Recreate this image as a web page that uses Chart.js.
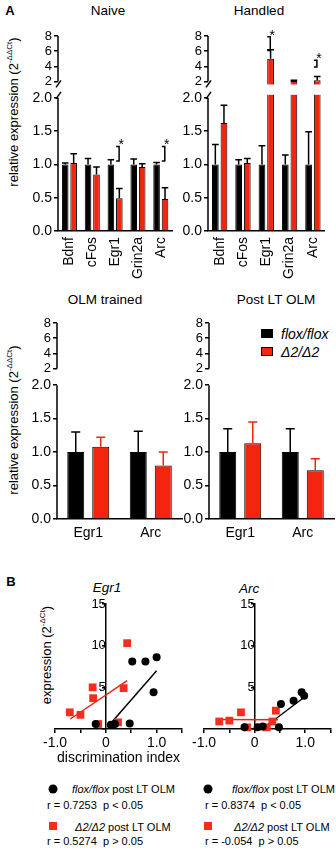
<!DOCTYPE html>
<html>
<head>
<meta charset="utf-8">
<script src="https://cdn.jsdelivr.net/npm/chart.js@4.4.0/dist/chart.umd.min.js"></script>
<style>
  html, body { margin: 0; padding: 0; overflow: hidden; background: #fff; }
  body { position: relative; width: 336px; height: 850px; font-family: "Liberation Sans", Arial, sans-serif; color: #000; }
  canvas { position: absolute; }
  .c { position: absolute; transform: translate(-50%, -50%); white-space: nowrap; line-height: 1; }
  .l { position: absolute; transform: translateY(-50%); white-space: pre; line-height: 1; }
  .v { position: absolute; transform: translate(-50%, -50%) rotate(-90deg); white-space: nowrap; line-height: 1; font-size: 13px; }
  .v sup { font-size: 8px; line-height: 0; }
  .box { position: absolute; width: 12px; height: 9px; box-sizing: border-box; border: 1px solid #000; }
  .dot { position: absolute; width: 9px; height: 9px; border-radius: 50%; background: #000; transform: translate(-50%, -50%); }
  .sq { position: absolute; width: 8px; height: 8px; background: #f62c1e; transform: translate(-50%, -50%); }
</style>
</head>
<body>

<div class="c" style="left:10px;top:10px;font-size:13px;font-weight:bold">A</div>
<div class="c" style="left:108px;top:11px;font-size:13.5px">Naive</div>
<div class="c" style="left:259px;top:11px;font-size:13.5px">Handled</div>
<div class="v" style="left:13px;top:112px">relative expression (2<sup>-ΔΔCt</sup>)</div>

<div class="c" style="left:105px;top:300px;font-size:13.5px">OLM trained</div>
<div class="c" style="left:276px;top:300px;font-size:13.5px">Post LT OLM</div>
<div class="v" style="left:13px;top:420px">relative expression (2<sup>-ΔΔCt</sup>)</div>
<div id="legend"></div>

<div class="c" style="left:11px;top:581px;font-size:13px;font-weight:bold">B</div>
<div class="c" style="left:107px;top:588px;font-size:13.5px;font-style:italic">Egr1</div>
<div class="c" style="left:249px;top:589px;font-size:13.5px;font-style:italic">Arc</div>
<div class="v" style="left:46px;top:655px">expression (2<sup>-ΔCt</sup>)</div>

<div class="dot" style="left:53px;top:789px"></div>
<div class="l" style="left:72px;top:789px;font-size:11px"><i>flox/flox</i> post LT OLM</div>
<div class="l" style="left:47px;top:805px;font-size:11px">r = 0.7253  p &lt; 0.05</div>
<div class="sq" style="left:53px;top:826px"></div>
<div class="l" style="left:75px;top:827px;font-size:11px"><i>Δ2/Δ2</i> post LT OLM</div>
<div class="l" style="left:47px;top:841px;font-size:11px">r = 0.5274  p &gt; 0.05</div>

<div class="dot" style="left:208px;top:789px"></div>
<div class="l" style="left:232px;top:789px;font-size:11px"><i>flox/flox</i> post LT OLM</div>
<div class="l" style="left:205px;top:805px;font-size:11px">r = 0.8374  p &lt; 0.05</div>
<div class="sq" style="left:208px;top:826px"></div>
<div class="l" style="left:234px;top:827px;font-size:11px"><i>Δ2/Δ2</i> post LT OLM</div>
<div class="l" style="left:205px;top:841px;font-size:11px">r = -0.054  p &gt; 0.05</div>

<canvas id="naive" width="166" height="265" style="left:18px;top:20px"></canvas>
<canvas id="handled" width="168" height="265" style="left:168px;top:20px"></canvas>
<canvas id="olm" width="169" height="238" style="left:17px;top:307px"></canvas>
<canvas id="post" width="167" height="238" style="left:169px;top:307px"></canvas>
<canvas id="scEgr1" width="151" height="175" style="left:41px;top:594px"></canvas>
<canvas id="scArc" width="146" height="175" style="left:190px;top:594px"></canvas>

<script>
// ---- data ----
const seriesNames = ['flox/flox', 'Δ2/Δ2'];
const genesAll = ['Bdnf', 'cFos', 'Egr1', 'Grin2a', 'Arc'];
const genesOlm = ['Egr1', 'Arc'];

const naiveFlox = [1.0, 1.0, 1.0, 1.0, 1.0];
const naiveFloxErr = [0.02, 0.09, 0.07, 0.08, 0.03];
const naiveDelta = [1.02, 0.85, 0.49, 0.96, 0.48];
const naiveDeltaErr = [0.14, 0.11, 0.15, 0.05, 0.17];
const naiveSig = [null, null, [1.05, 1.27], null, [1.05, 1.27]];

const handledFlox = [1.0, 1.0, 1.0, 1.0, 1.0];
const handledFloxErr = [0.3, 0.07, 0.28, 0.14, 0.49];
const handledDelta = [1.62, 1.02, 5.0, 2.05, 2.15];
const handledDeltaErr = [0.27, 0.07, 1.2, 0.1, 0.5];
const handledSig = [null, null, [6.1, 7.9], null, [3.9, 4.8]];

const olmFlox = [1.0, 1.0];
const olmFloxErr = [0.3, 0.31];
const olmDelta = [1.08, 0.8];
const olmDeltaErr = [0.14, 0.2];

const postFlox = [1.0, 1.0];
const postFloxErr = [0.35, 0.35];
const postDelta = [1.13, 0.73];
const postDeltaErr = [0.32, 0.17];

const lowTicks = [0, 0.5, 1, 1.5, 2];
const highTicks = [2, 4, 6, 8];
const brokenTickLabels = ['0.0', '0.5', '1.0', '1.5', '2.0', '2', '4', '6', '8'];

const egr1Flox = [{x: -0.2, y: 0.6}, {x: 0.1, y: 0.5}, {x: 0.18, y: 0.6}, {x: 0.47, y: 0.65},
                  {x: 0.52, y: 8.1}, {x: 0.78, y: 8.1}, {x: 1.0, y: 8.6}, {x: 0.94, y: 4.4}];
const egr1Delta = [{x: 0.42, y: 10.3}, {x: -0.26, y: 5.0}, {x: -0.25, y: 3.7}, {x: 0.35, y: 4.9},
                   {x: -0.71, y: 2.0}, {x: -0.5, y: 1.7}, {x: 0.24, y: 0.8}, {x: -0.15, y: 0.6}];
const egr1FloxFit = [{x: 0.03, y: 0.2}, {x: 1.0, y: 7.0}];
const egr1DeltaFit = [{x: -0.7, y: 1.2}, {x: 0.42, y: 5.8}];

const arcFlox = [{x: -0.2, y: 0.2}, {x: 0.06, y: 0.2}, {x: 0.16, y: 0.3}, {x: 0.48, y: 0.2},
                 {x: 0.52, y: 3.0}, {x: 0.77, y: 3.4}, {x: 0.93, y: 4.4}, {x: 0.98, y: 4.0}];
const arcDelta = [{x: -0.27, y: 2.0}, {x: 0.42, y: 2.2}, {x: -0.7, y: 0.9}, {x: -0.5, y: 1.0},
                  {x: 0.35, y: 0.9}, {x: 0.24, y: 0.2}, {x: -0.15, y: 0.2}];
const arcFloxFit = [{x: 0.15, y: 0}, {x: 1.0, y: 3.9}];
const arcDeltaFit = [{x: -0.75, y: 1.15}, {x: 0.46, y: 1.1}];

const scatterXTicks = [-1, -0.5, 0, 0.5, 1, 1.5];
const scatterXLabels = ['-1.0', '', '0', '', '1.0', ''];
const scatterYTicks = [0, 5, 10, 15];
const scatterYLabels = ['', '5', '10', '15'];

// ---- setup ----
const RED = '#f4250f';
const BREAK = 2, TOP = 8, LOW_SHARE = 0.683, HIGH_SHARE = 0.233;
Chart.defaults.font.family = '"Liberation Sans", Arial, sans-serif';
Chart.defaults.color = '#000';

// y axis with a break: 0..2 in the lower part, 2..8 squeezed in the upper part
class BrokenScale extends Chart.LinearScale {
  getPixelForValue(v) {
    const h = this.bottom - this.top;
    if (v <= BREAK) return this.bottom - v / BREAK * h * LOW_SHARE;
    return this.top + (TOP - v) / (TOP - BREAK) * h * HIGH_SHARE;
  }
}
BrokenScale.id = 'broken';
BrokenScale.defaults = Chart.LinearScale.defaults;
Chart.register(BrokenScale);

// legend (middle right)
document.getElementById('legend').innerHTML =
  '<div class="box" style="left:261px;top:329px;background:#000"></div>' +
  '<div class="l" style="left:281px;top:334px;font-size:14px;font-style:italic">' + seriesNames[0] + '</div>' +
  '<div class="box" style="left:261px;top:347px;background:' + RED + '"></div>' +
  '<div class="l" style="left:281px;top:352px;font-size:14px;font-style:italic">' + seriesNames[1] + '</div>';

function decor(o) {
  return {
    id: 'decor',
    afterDatasetsDraw(chart) {
      const ctx = chart.ctx, a = chart.chartArea, ys = chart.scales.y, xs = chart.scales.x;
      const yLow = ys.getPixelForValue(BREAK), yHigh = ys.getPixelForValue(BREAK + 1e-6);
      ctx.save();
      // gap in the bars at the break
      ctx.fillStyle = '#fff';
      ctx.fillRect(a.left + 1, yHigh + 3, a.right - a.left, yLow - yHigh - 6);
      // error bars (upper only)
      ctx.lineWidth = 1.5;
      chart.data.datasets.forEach((ds, i) => {
        ctx.strokeStyle = ds.errColor;
        chart.getDatasetMeta(i).data.forEach((bar, j) => {
          const y0 = ys.getPixelForValue(ds.data[j]);
          const y1 = ys.getPixelForValue(ds.data[j] + ds.errors[j]);
          const w = Math.min(bar.width / 2, 4.5);
          ctx.beginPath();
          ctx.moveTo(bar.x, y0); ctx.lineTo(bar.x, y1);
          ctx.moveTo(bar.x - w, y1); ctx.lineTo(bar.x + w, y1);
          ctx.stroke();
        });
      });
      // broken y axis line
      ctx.strokeStyle = '#000';
      const x = a.left;
      ctx.beginPath();
      ctx.moveTo(x, ys.getPixelForValue(0)); ctx.lineTo(x, yLow);
      ctx.moveTo(x, yHigh); ctx.lineTo(x, ys.getPixelForValue(TOP));
      if (o.slash) {
        ctx.moveTo(x - 2, yLow + 1); ctx.lineTo(x + 3, yLow - 6);
        ctx.moveTo(x - 2, yHigh + 6); ctx.lineTo(x + 3, yHigh - 1);
      }
      ctx.stroke();
      // significance brackets
      ctx.fillStyle = '#000';
      ctx.font = '14px "Liberation Sans", Arial, sans-serif';
      ctx.textAlign = 'center';
      (o.sig || []).forEach((s, j) => {
        if (!s) return;
        const cx = xs.getPixelForValue(j) + 4;
        const yb = ys.getPixelForValue(s[0]), yt = ys.getPixelForValue(s[1]);
        ctx.beginPath();
        ctx.moveTo(cx - 3, yt); ctx.lineTo(cx, yt); ctx.lineTo(cx, yb); ctx.lineTo(cx - 3, yb);
        ctx.stroke();
        ctx.fillText('*', cx + 2, yt + 3);
      });
      ctx.restore();
    }
  };
}

function barChart(id, labels, flox, floxErr, delta, deltaErr, o) {
  return new Chart(document.getElementById(id), {
    type: 'bar',
    data: {
      labels: labels,
      datasets: [
        { label: seriesNames[0], data: flox, errors: floxErr, errColor: '#000',
          backgroundColor: '#000', borderColor: '#000', borderWidth: 1 },
        { label: seriesNames[1], data: delta, errors: deltaErr, errColor: o.redErr ? RED : '#000',
          backgroundColor: RED, borderColor: '#000', borderWidth: 1 }
      ]
    },
    options: {
      responsive: false, animation: false, events: [],
      layout: { padding: { left: 2, top: 16, right: o.padR, bottom: 0 } },
      plugins: { legend: { display: false }, tooltip: { enabled: false } },
      datasets: { bar: { categoryPercentage: o.cat, barPercentage: o.bar } },
      scales: {
        x: {
          afterFit: s => { s.height = o.xH; },
          grid: { display: false, drawTicks: false },
          border: { color: '#000', width: 1.5 },
          ticks: { autoSkip: false, color: '#000', font: { size: 14 }, padding: 6,
                   minRotation: o.rot, maxRotation: o.rot }
        },
        y: {
          type: 'broken', min: 0, max: TOP,
          afterBuildTicks: s => {
            s.ticks = lowTicks.map(v => ({ value: v })).concat(highTicks.map(v => ({ value: v + 1e-6 })));
          },
          afterFit: s => { s.width = 38; },
          border: { display: false },
          grid: { drawOnChartArea: false, drawTicks: true, tickLength: 4, color: '#000', lineWidth: 1.5 },
          ticks: { autoSkip: false, color: '#000', padding: 2,
                   callback: (v, i) => brokenTickLabels[i],
                   font: c => ({ size: c.tick && c.tick.value > BREAK ? 13 : 14 }) }
        }
      }
    },
    plugins: [decor(o)]
  });
}

barChart('naive', genesAll, naiveFlox, naiveFloxErr, naiveDelta, naiveDeltaErr,
  { padR: 4, xH: 54, rot: 90, cat: 0.74, bar: 0.78, slash: true, sig: naiveSig });
barChart('handled', genesAll, handledFlox, handledFloxErr, handledDelta, handledDeltaErr,
  { padR: 3, xH: 54, rot: 90, cat: 0.74, bar: 0.78, slash: true, sig: handledSig });
barChart('olm', genesOlm, olmFlox, olmFloxErr, olmDelta, olmDeltaErr,
  { padR: 4, xH: 26, rot: 0, cat: 0.8, bar: 0.68, redErr: true });
barChart('post', genesOlm, postFlox, postFloxErr, postDelta, postDeltaErr,
  { padR: 2, xH: 26, rot: 0, cat: 0.8, bar: 0.68, redErr: true });

function scatterChart(id, flox, delta, floxFit, deltaFit, padR, withTitle) {
  return new Chart(document.getElementById(id), {
    type: 'scatter',
    data: {
      datasets: [
        { type: 'line', data: floxFit, borderColor: '#000', borderWidth: 1.5, pointRadius: 0, order: 2, clip: false },
        { type: 'line', data: deltaFit, borderColor: '#e8231c', borderWidth: 1.5, pointRadius: 0, order: 2, clip: false },
        { label: seriesNames[1], data: delta, pointStyle: 'rect', pointRadius: 5.5, backgroundColor: '#f62c1e',
          borderWidth: 0, order: 1, clip: false },
        { label: seriesNames[0], data: flox, pointStyle: 'circle', pointRadius: 4, backgroundColor: '#000',
          borderWidth: 0, order: 0, clip: false }
      ]
    },
    options: {
      responsive: false, animation: false, events: [],
      layout: { padding: { left: 14, top: 10, right: padR, bottom: 0 } },
      plugins: { legend: { display: false }, tooltip: { enabled: false } },
      scales: {
        x: {
          type: 'linear', min: -1, max: 1.5,
          afterBuildTicks: s => { s.ticks = scatterXTicks.map(v => ({ value: v })); },
          afterFit: s => { s.height = 40; },
          border: { color: '#000', width: 1.5 },
          grid: { drawOnChartArea: false, tickLength: 4, color: '#000', lineWidth: 1.5 },
          ticks: { autoSkip: false, maxRotation: 0, color: '#000', font: { size: 14 }, padding: 2,
                   callback: (v, i) => scatterXLabels[i] },
          title: { display: withTitle, text: 'discrimination index', color: '#000',
                   font: { size: 14 }, padding: { top: 0, bottom: 2 } }
        },
        y: {
          type: 'linear', position: { x: 0 }, min: 0, max: 15,
          afterBuildTicks: s => { s.ticks = scatterYTicks.map(v => ({ value: v })); },
          border: { color: '#000', width: 1.5 },
          grid: { drawOnChartArea: false, tickLength: 3, color: '#000', lineWidth: 1.5 },
          ticks: { autoSkip: false, color: '#000', font: { size: 13 }, padding: 1,
                   callback: (v, i) => scatterYLabels[i] }
        }
      }
    }
  });
}

scatterChart('scEgr1', egr1Flox, egr1Delta, egr1FloxFit, egr1DeltaFit, 10, true);
scatterChart('scArc', arcFlox, arcDelta, arcFloxFit, arcDeltaFit, 4, false);
</script>
</body>
</html>
